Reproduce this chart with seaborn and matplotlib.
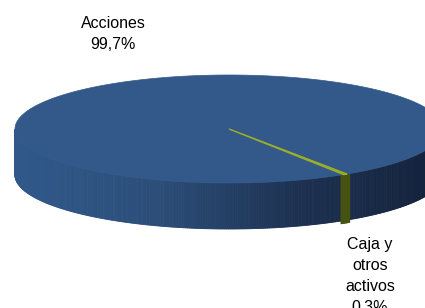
import numpy as np
import matplotlib.pyplot as plt
import seaborn as sns
from matplotlib.collections import PolyCollection

# composition of the portfolio
labels = ["Acciones", "Caja y\notros\nactivos"]
shares = [99.7, 0.3]
pct_labels = ["99,7%", "0,3%"]

top_colors = ["#33598a", "#8a9a18"]
side_palettes = [["#30598a", "#2b4d78", "#1c3050", "#13223a"],
                 ["#465310", "#465310"]]

sns.set_theme(style="white")
plt.rcParams['font.family'] = ['Liberation Sans', 'DejaVu Sans']

fig = plt.figure(figsize=(4.25, 3.08), dpi=100)
ax = fig.add_axes([0, 0, 1, 1])
ax.set_xlim(0, 425)
ax.set_ylim(308, 0)
ax.axis('off')

# ellipse geometry of the tilted pie (in pixels)
cx, cy, rx, ry, depth = 229, 129, 214, 54, 46
start = -57.6


def rim(t):
    t = np.radians(t)
    return cx + rx * np.cos(t), cy - ry * np.sin(t)


# slice angles, clockwise from start
ends = start - 360 * np.cumsum(shares) / sum(shares)
begins = np.r_[start, ends[:-1]]

# front side walls
for i, (b, e) in enumerate(zip(begins, ends)):
    ts = np.linspace(e, b, max(int(abs(b - e) * 2), 3))
    pal = sns.blend_palette(side_palettes[i], n_colors=200)
    polys, cols = [], []
    for t0, t1 in zip(ts[:-1], ts[1:]):
        tm = (t0 + t1) / 2
        if np.sin(np.radians(tm)) > 0:
            continue
        x0, y0 = rim(t0)
        x1, y1 = rim(t1)
        polys.append([(x0, y0), (x1, y1), (x1, y1 + depth), (x0, y0 + depth)])
        xm = (x0 + x1) / 2
        k = int(np.clip((xm - (cx - rx)) / (2 * rx), 0, 1) * 199)
        cols.append(pal[k])
    lw = 0.6 if i == 0 else 4.5
    ax.add_collection(PolyCollection(polys, facecolors=cols, edgecolors=cols,
                                     linewidths=lw, joinstyle='miter'))

# top face
for i, (b, e) in enumerate(zip(begins, ends)):
    ts = np.linspace(e, b, max(int(abs(b - e) * 2), 3))
    xs, ys = rim(ts)
    px = np.r_[cx, xs, cx]
    py = np.r_[cy, ys, cy]
    if i == 0:
        ax.fill(px, py, color=top_colors[i], lw=0.5, ec=top_colors[i])
    else:
        ax.fill(px, py, color=top_colors[i], lw=1.0, ec="#9aae28")

ax.text(113, 34, labels[0] + "\n" + pct_labels[0], ha='center', va='center',
        fontsize=11.5, linespacing=1.45, color="black")
ax.text(370, 276, labels[1] + "\n" + pct_labels[1], ha='center', va='center',
        fontsize=11.5, linespacing=1.5, color="black")

fig.savefig("out.png", dpi=100)
